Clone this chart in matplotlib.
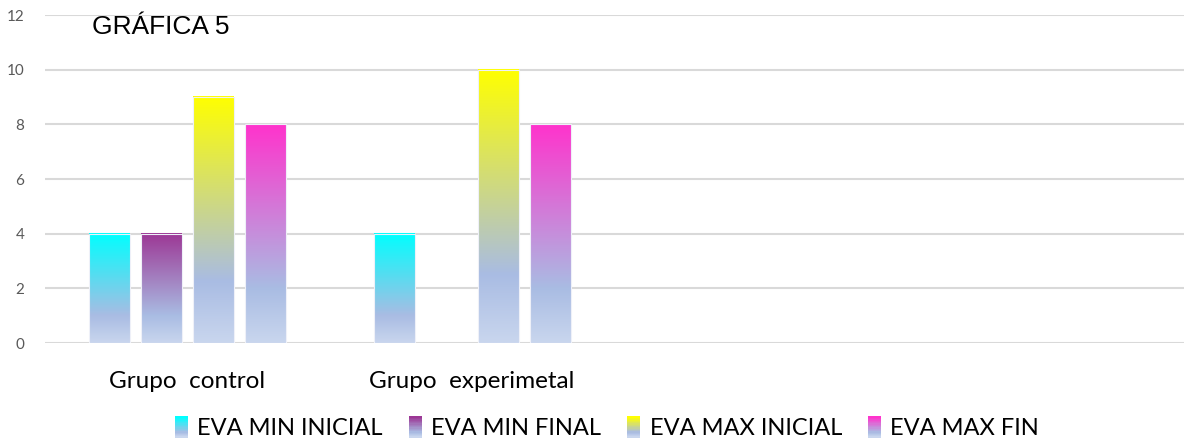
import numpy as np
import matplotlib
matplotlib.use("Agg")
import matplotlib.pyplot as plt
from matplotlib.colors import to_rgb
from matplotlib.patches import Rectangle
from matplotlib.legend_handler import HandlerBase

categories = ["Grupo  control", "Grupo  experimetal", "", ""]
series_names = ["EVA MIN INICIAL", "EVA MIN FINAL", "EVA MAX INICIAL", "EVA MAX FIN"]
eva_min_inicial = [4, 4, 0, 0]
eva_min_final = [4, 0, 0, 0]
eva_max_inicial = [9, 10, 0, 0]
eva_max_fin = [8, 8, 0, 0]
series_values = [eva_min_inicial, eva_min_final, eva_max_inicial, eva_max_fin]
top_colors = ["#00ffff", "#9c3795", "#ffff00", "#ff33cc"]
bottom_color = "#c9d6ee"
mid_color = "#a9bce3"
yticks = [0, 2, 4, 6, 8, 10, 12]

W, H = 1184, 440
fig = plt.figure(figsize=(W / 100, H / 100), dpi=100)
ax = fig.add_axes([45 / W, 97 / H, 1 - 45 / W, (343 - 15) / H])

def grad_colors(top, n=256):
    t = np.linspace(0, 1, n)
    b = np.array(to_rgb(bottom_color))
    m = np.array(to_rgb(mid_color))
    c = np.array(to_rgb(top))
    out = np.zeros((n, 3))
    for i, ti in enumerate(t):
        if ti < 0.25:
            f = ti / 0.25
            out[i] = b + (m - b) * f
        else:
            f = (ti - 0.25) / 0.75
            out[i] = m + (c - m) * f
    return out

x = np.arange(len(categories))
step = 52 / 285
bw = 41 / 285
offsets = (np.arange(4) - 1.5) * step

for s, (vals, col) in enumerate(zip(series_values, top_colors)):
    g = grad_colors(col)[::-1]  # top row first
    img = g[:, None, :]
    for xi, v in zip(x, vals):
        if v <= 0:
            continue
        x0 = xi + offsets[s] - bw / 2
        ax.imshow(img, extent=[x0, x0 + bw, 0, v], aspect="auto", zorder=3,
                  interpolation="bilinear")
        ax.add_patch(Rectangle((x0, 0), bw, v, fill=False, edgecolor="#eef0f8",
                               linewidth=0.8, zorder=4))

ax.set_xlim(-0.5, len(categories) - 0.5)
ax.set_ylim(0, 12)
ax.set_yticks(yticks)
ax.set_yticklabels([str(v) for v in yticks], fontsize=11, color="#595959",
                   family=["Lato", "DejaVu Sans"])
ax.set_xticks(x)
ax.set_xticklabels(categories, fontsize=17.5, color="#000000",
                   family=["Lato", "DejaVu Sans"])
ax.tick_params(axis="y", length=0, pad=15)
ax.tick_params(axis="x", length=0, pad=20)
ax.yaxis.grid(True, color="#d9d9d9", linewidth=1.5, zorder=0)
ax.set_axisbelow(True)
for sp in ax.spines.values():
    sp.set_visible(False)

fig.text(92 / W, 1 - 34 / H, "GRÁFICA 5", fontsize=19,
         family=["Liberation Sans", "DejaVu Sans"], va="baseline", ha="left")

class GradHandle:
    def __init__(self, color):
        self.color = color

class GradHandler(HandlerBase):
    def create_artists(self, legend, orig_handle, xdescent, ydescent, width,
                       height, fontsize, trans):
        cols = grad_colors(orig_handle.color, 16)
        arts = []
        n = len(cols)
        for i, c in enumerate(cols):
            r = Rectangle((-xdescent, -ydescent + height * i / n), width,
                          height / n + 0.3, facecolor=c, edgecolor="none",
                          transform=trans)
            arts.append(r)
        return arts

handles = [GradHandle(c) for c in top_colors]
leg = fig.legend(handles, series_names, handler_map={GradHandle: GradHandler()},
                 loc="center", bbox_to_anchor=(607 / W, 1 - 428 / H), ncol=4,
                 frameon=False, prop={"family": ["Lato", "DejaVu Sans"], "size": 17},
                 handlelength=0.55, handleheight=1.0, handletextpad=0.4,
                 columnspacing=1.1)

fig.savefig("out.png", dpi=100)
